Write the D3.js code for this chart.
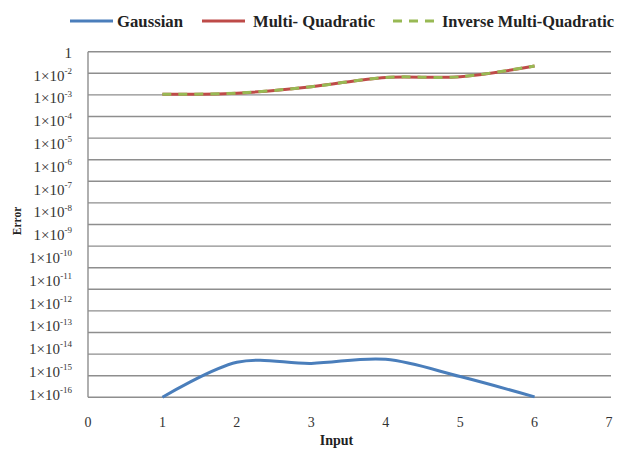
<!DOCTYPE html>
<html><head><meta charset="utf-8">
<script src="https://cdn.jsdelivr.net/npm/d3@7"></script>
<style>html,body{margin:0;padding:0;background:#fff;}svg{display:block;}</style>
</head><body>
<svg id="chart" width="617" height="450"></svg>
<script>
// Data (log10 of error, on the chart's decade gridlines)
const inputs = [1, 2, 3, 4, 5, 6];
const gaussian = [-16.0, -14.38, -14.43, -14.24, -15.04, -15.98];
const multiQuadratic = [-1.97, -1.92, -1.62, -1.19, -1.16, -0.66];
const inverseMultiQuadratic = [-1.97, -1.92, -1.62, -1.19, -1.16, -0.66];
const seriesNames = ["Gaussian", "Multi- Quadratic", "Inverse Multi-Quadratic"];
const seriesColors = ["#4A7EBB", "#BE4B48", "#98B954"];
const xTicks = [0, 1, 2, 3, 4, 5, 6, 7];
const gridExponents = d3.range(0, -17, -1);
const yLabelExponents = [0, -2, -3, -4, -5, -6, -7, -8, -9, -10, -11, -12, -13, -14, -15, -16];

const svg = d3.select("#chart");
const serif = "'Liberation Serif','Times New Roman',serif";

const x = d3.scaleLinear().domain([0, 7]).range([88, 609]);
const y = d3.scaleLinear().domain([-16, 0]).range([397.3, 51.7]);
const yLab = d3.scalePoint().domain(yLabelExponents).range([52.5, 394.5]);

// gridlines
svg.append("g").selectAll("line").data(gridExponents).join("line")
  .attr("x1", x(0)).attr("x2", 611)
  .attr("y1", d => y(d)).attr("y2", d => y(d))
  .attr("stroke", "#8e8e8e").attr("stroke-width", 1.4);
// left axis line
svg.append("line").attr("x1", x(0)).attr("x2", x(0))
  .attr("y1", y(0)).attr("y2", y(-16))
  .attr("stroke", "#8e8e8e").attr("stroke-width", 1.4);

// y labels
const yl = svg.append("g").attr("font-family", serif).attr("fill", "#333")
  .selectAll("text").data(yLabelExponents).join("text")
  .attr("x", 72).attr("y", d => yLab(d)).attr("dy", "0.35em")
  .attr("text-anchor", "end").attr("font-size", 15);
yl.each(function(d) {
  const t = d3.select(this);
  if (d === 0) { t.text("1"); return; }
  t.append("tspan").text("1\u00d710");
  t.append("tspan").attr("font-size", 9).attr("dy", "-0.75em").text(String(d));
});

// x labels
svg.append("g").attr("font-family", serif).attr("fill", "#333")
  .selectAll("text").data(xTicks).join("text")
  .attr("x", d => x(d)).attr("y", 427).attr("text-anchor", "middle")
  .attr("font-size", 14).text(d => d);

// axis titles
svg.append("text").attr("x", 336.5).attr("y", 445).attr("text-anchor", "middle")
  .attr("font-family", serif).attr("font-weight", "bold").attr("font-size", 14)
  .attr("fill", "#222").text("Input");
svg.append("text").attr("transform", "translate(20.5,221) rotate(-90)")
  .attr("text-anchor", "middle").attr("font-family", serif).attr("font-weight", "bold")
  .attr("font-size", 11.5).attr("fill", "#222").text("Error");

// lines
const line = d3.line().x((d, i) => x(inputs[i])).y(d => y(d))
  .curve(d3.curveCardinal.tension(0));
const series = [gaussian, multiQuadratic, inverseMultiQuadratic];
series.forEach((s, i) => {
  const p = svg.append("path").datum(s).attr("d", line)
    .attr("fill", "none").attr("stroke", seriesColors[i]).attr("stroke-width", 3)
    .attr("stroke-linecap", "butt");
  if (i === 2) p.attr("stroke-dasharray", "9,7");
});

// legend
const legX = [[70, 113, 117], [202, 245, 253], [393, 437, 442]];
const legW = [66, 122, 172];
seriesNames.forEach((n, i) => {
  const ln = svg.append("line").attr("x1", legX[i][0]).attr("x2", legX[i][1])
    .attr("y1", 21).attr("y2", 21).attr("stroke", seriesColors[i]).attr("stroke-width", 3);
  if (i === 2) ln.attr("stroke-dasharray", "9,7");
  svg.append("text").attr("x", legX[i][2]).attr("y", 26.7)
    .attr("font-family", serif).attr("font-weight", "bold").attr("font-size", 16.5)
    .attr("fill", "#222").attr("textLength", legW[i]).attr("lengthAdjust", "spacingAndGlyphs")
    .text(n);
});
</script>
</body></html>
